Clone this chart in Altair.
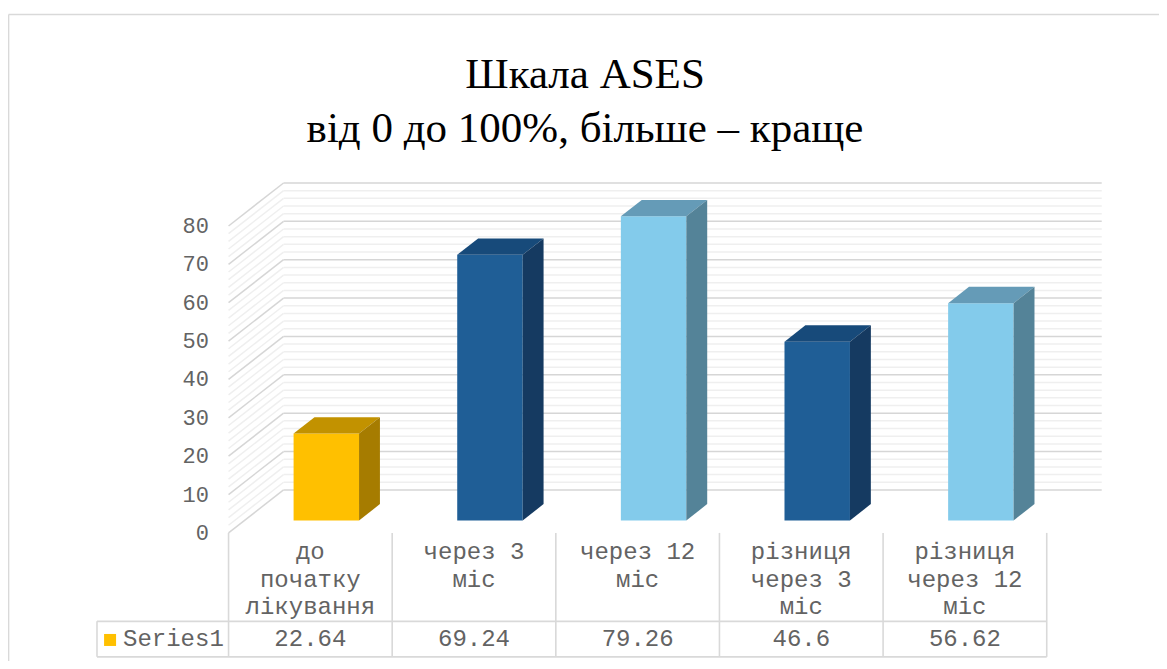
import altair as alt
import pandas as pd

# ---------------- data ----------------
categories = ["до\nпочатку\nлікування", "через 3\nміс", "через 12\nміс",
              "різниця\nчерез 3\nміс", "різниця\nчерез 12\nміс"]
values = [22.64, 69.24, 79.26, 46.6, 56.62]
series_name = "Series1"
major_ticks = [0, 10, 20, 30, 40, 50, 60, 70, 80]
minor_ticks = [t for t in range(0, 81, 2) if t % 10 != 0]
title_lines = ["Шкала ASES", "від 0 до 100%, більше – краще"]

# ---------------- styles ----------------
front_colors = ["#FFC000", "#1F5E96", "#83CBEB", "#1F5E96", "#83CBEB"]
top_colors = ["#C29200", "#174A7A", "#659BB7", "#174A7A", "#659BB7"]
side_colors = ["#A67C00", "#153A61", "#548398", "#153A61", "#548398"]
GRID_MAJOR = "#D6D6D6"
GRID_MINOR = "#EFEFEF"
TABLE_LINE = "#D9D9D9"
TEXT_COLOR = "#636363"

# ---------------- layout (data units) ----------------
PX_X = 163.64            # px per category
PX_Y = 3.8368            # px per value unit
X_DOM = [-0.81, 5.35]
Y_DOM = [-32.6, 91.2]
W = round((X_DOM[1] - X_DOM[0]) * PX_X)
H = round((Y_DOM[1] - Y_DOM[0]) * PX_Y)
DX = 55 / PX_X           # wall depth
DY = 43 / PX_Y
F0 = 0.29                # bar front position in depth
FD = 0.38                # bar depth
BW = 0.4                 # bar width
ROW_SEP = -23.05
TBL_BOT = -32.3
LEG_LEFT = -0.804
HDR_BASE = -6.8
VAL_BASE = -29.4
LABEL_X = -0.12
TITLE_X = (585 - 228.5) / PX_X
TITLE_Y = (532.9 - 88) / PX_Y

n = len(values)
xs = alt.Scale(domain=X_DOM, nice=False, zero=False)
ys = alt.Scale(domain=Y_DOM, nice=False, zero=False)
idx = list(range(n))

# ---------------- gridlines ----------------
def grid_rows(ticks):
    rows = []
    for t in ticks:
        rows.append(dict(x=0, x2=DX, y=t, y2=t + DY))
        rows.append(dict(x=DX, x2=n + DX, y=t + DY, y2=t + DY))
    return pd.DataFrame(rows)

def rules(df, color, width=1.5):
    return alt.Chart(df).mark_rule(color=color, strokeWidth=width).encode(
        x=alt.X("x:Q", scale=xs, axis=None), x2="x2:Q",
        y=alt.Y("y:Q", scale=ys, axis=None), y2="y2:Q")

minor_layer = rules(grid_rows(minor_ticks), GRID_MINOR)
major_layer = rules(grid_rows(major_ticks), GRID_MAJOR)

# ---------------- bars ----------------
front_rows, top_rows, side_rows = [], [], []
for i, v in enumerate(values):
    xl = i + 0.5 - BW / 2 + F0 * DX
    xr = i + 0.5 + BW / 2 + F0 * DX
    y0 = F0 * DY
    y1 = v + F0 * DY
    ddx, ddy = FD * DX, FD * DY
    front_rows.append(dict(c=i, x=xl, x2=xr, y=y0, y2=y1))
    top_rows += [dict(c=i, x=xl, y=y1, y2=y1),
                 dict(c=i, x=xl + ddx, y=y1, y2=y1 + ddy),
                 dict(c=i, x=xr, y=y1, y2=y1 + ddy),
                 dict(c=i, x=xr + ddx, y=y1 + ddy, y2=y1 + ddy)]
    side_rows += [dict(c=i, x=xr, y=y0, y2=y1),
                  dict(c=i, x=xr + ddx, y=y0 + ddy, y2=y1 + ddy)]

def cscale(rng):
    return alt.Scale(domain=idx, range=rng)

front = alt.Chart(pd.DataFrame(front_rows)).mark_rect().encode(
    x=alt.X("x:Q", scale=xs, axis=None), x2="x2:Q",
    y=alt.Y("y:Q", scale=ys, axis=None), y2="y2:Q",
    color=alt.Color("c:N", scale=cscale(front_colors), legend=None))

top = alt.Chart(pd.DataFrame(top_rows)).mark_area(interpolate="linear").encode(
    x=alt.X("x:Q", scale=xs, axis=None),
    y=alt.Y("y:Q", scale=ys, axis=None), y2="y2:Q",
    color=alt.Color("c:N", scale=cscale(top_colors), legend=None))

side = alt.Chart(pd.DataFrame(side_rows)).mark_area(interpolate="linear").encode(
    x=alt.X("x:Q", scale=xs, axis=None),
    y=alt.Y("y:Q", scale=ys, axis=None), y2="y2:Q",
    color=alt.Color("c:N", scale=cscale(side_colors), legend=None))

# ---------------- axis labels ----------------
axis_df = pd.DataFrame(dict(x=[LABEL_X] * len(major_ticks), y=major_ticks,
                            t=[str(t) for t in major_ticks]))
axis_labels = alt.Chart(axis_df).mark_text(
    align="right", baseline="middle", font="Liberation Mono", fontSize=22,
    color=TEXT_COLOR).encode(
    x=alt.X("x:Q", scale=xs, axis=None), y=alt.Y("y:Q", scale=ys, axis=None),
    text="t:N")

# ---------------- data table ----------------
tbl_rows = [dict(x=i, x2=i, y=0, y2=TBL_BOT) for i in range(n + 1)]
tbl_rows += [dict(x=LEG_LEFT, x2=n, y=ROW_SEP, y2=ROW_SEP),
             dict(x=LEG_LEFT, x2=n, y=TBL_BOT, y2=TBL_BOT),
             dict(x=LEG_LEFT, x2=LEG_LEFT, y=ROW_SEP, y2=TBL_BOT)]
table_lines = rules(pd.DataFrame(tbl_rows), TABLE_LINE, 1.6)

hdr_df = pd.DataFrame(dict(x=[i + 0.5 for i in idx], y=[HDR_BASE] * n, t=categories))
hdr = alt.Chart(hdr_df).mark_text(
    align="center", baseline="alphabetic", lineBreak="\n", lineHeight=27.5,
    font="Liberation Mono", fontSize=24, color=TEXT_COLOR).encode(
    x=alt.X("x:Q", scale=xs, axis=None), y=alt.Y("y:Q", scale=ys, axis=None),
    text="t:N")

val_df = pd.DataFrame(dict(x=[i + 0.5 for i in idx], y=[VAL_BASE] * n,
                           t=[f"{v:g}" for v in values]))
vals = alt.Chart(val_df).mark_text(
    align="center", baseline="alphabetic", font="Liberation Mono", fontSize=24,
    color=TEXT_COLOR).encode(
    x=alt.X("x:Q", scale=xs, axis=None), y=alt.Y("y:Q", scale=ys, axis=None),
    text="t:N")

leg_sq = alt.Chart(pd.DataFrame(dict(x=[-0.724], y=[-27.9]))).mark_square(
    size=144, color=front_colors[0], opacity=1).encode(
    x=alt.X("x:Q", scale=xs, axis=None), y=alt.Y("y:Q", scale=ys, axis=None))

leg_txt = alt.Chart(pd.DataFrame(dict(x=[-0.645], y=[VAL_BASE], t=[series_name]))).mark_text(
    align="left", baseline="alphabetic", font="Liberation Mono", fontSize=24,
    color=TEXT_COLOR).encode(
    x=alt.X("x:Q", scale=xs, axis=None), y=alt.Y("y:Q", scale=ys, axis=None),
    text="t:N")

# ---------------- title ----------------
title_df = pd.DataFrame(dict(x=[TITLE_X], y=[TITLE_Y], t=["\n".join(title_lines)]))
title = alt.Chart(title_df).mark_text(
    align="center", baseline="alphabetic", lineBreak="\n", lineHeight=54,
    font="Liberation Serif", fontSize=43, color="#000000").encode(
    x=alt.X("x:Q", scale=xs, axis=None), y=alt.Y("y:Q", scale=ys, axis=None),
    text="t:N")

# ---------------- outer chart-area border ----------------
bx = (8.5 - 228.5) / PX_X
by_top = (532.9 - 14.5) / PX_Y
by_bot = (532.9 - 700) / PX_Y
bx_right = (1200 - 228.5) / PX_X
border = rules(pd.DataFrame([dict(x=bx, x2=bx, y=by_top, y2=by_bot),
                             dict(x=bx, x2=bx_right, y=by_top, y2=by_top)]),
               TABLE_LINE, 1.6)

chart = alt.layer(
    border, minor_layer, major_layer, front, top, side,
    axis_labels, table_lines, hdr, vals, leg_sq, leg_txt, title
).resolve_scale(color="independent").properties(
    width=W, height=H,
    padding={"left": 88, "top": 175, "right": 55, "bottom": 3},
    autosize=alt.AutoSizeParams(type="none"),
    background="white",
).configure_view(stroke=None)

chart.save("out.html", embed_options={"renderer": "svg", "actions": False})
